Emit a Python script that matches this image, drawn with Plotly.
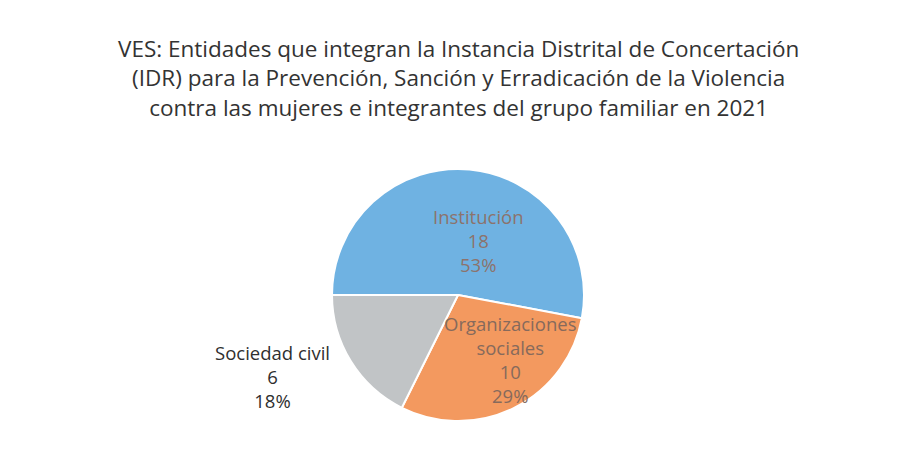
import plotly.graph_objects as go

categories = ["Institución", "Organizaciones sociales", "Sociedad civil"]
values = [18, 10, 6]
colors = ["#6FB2E2", "#F3995F", "#C1C4C6"]

total = sum(values)
pcts = [round(v / total * 100) for v in values]

W, H = 901, 464
OFF = 8  # page body margin offset


def px(x):
    return (x - OFF) / W


def py(y):
    return 1 - (y - OFF) / H


fig = go.Figure()
fig.add_trace(go.Pie(
    labels=categories,
    values=values,
    sort=False,
    direction="clockwise",
    rotation=270,
    marker=dict(colors=colors, line=dict(color="white", width=2)),
    textinfo="none",
    hoverinfo="label+value+percent",
    showlegend=False,
    domain=dict(x=[px(332), px(584)], y=[py(421), py(169)]),
))

title_lines = [
    "VES: Entidades que integran la Instancia Distrital de Concertación",
    "(IDR) para la Prevención, Sanción y Erradicación de la Violencia",
    "contra las mujeres e integrantes del grupo familiar en 2021",
]


def lab(i, name_html):
    return f"{name_html}<br>{values[i]}<br>{pcts[i]}%"


annotations = [
    dict(text="<br>".join(title_lines), x=px(458), y=py(78), xref="paper", yref="paper",
         xanchor="center", yanchor="middle", showarrow=False,
         font=dict(family="Open Sans", size=22.5, color="#333333"), align="center"),
    dict(text=lab(0, categories[0]), x=px(478), y=py(240), xref="paper", yref="paper",
         xanchor="center", yanchor="middle", showarrow=False,
         font=dict(family="Open Sans", size=18.5, color="#8C736C"), align="center"),
    dict(text=lab(1, "Organizaciones<br>sociales"), x=px(510), y=py(359), xref="paper", yref="paper",
         xanchor="center", yanchor="middle", showarrow=False,
         font=dict(family="Open Sans", size=18.5, color="#866A5C"), align="center"),
    dict(text=lab(2, categories[2]), x=px(272), y=py(376), xref="paper", yref="paper",
         xanchor="center", yanchor="middle", showarrow=False,
         font=dict(family="Open Sans", size=18.5, color="#2f2f2f"), align="center"),
]

fig.update_layout(
    width=W, height=H,
    margin=dict(l=0, r=0, t=0, b=0),
    paper_bgcolor="white", plot_bgcolor="white",
    annotations=annotations,
)

fig.write_html("out.html")
